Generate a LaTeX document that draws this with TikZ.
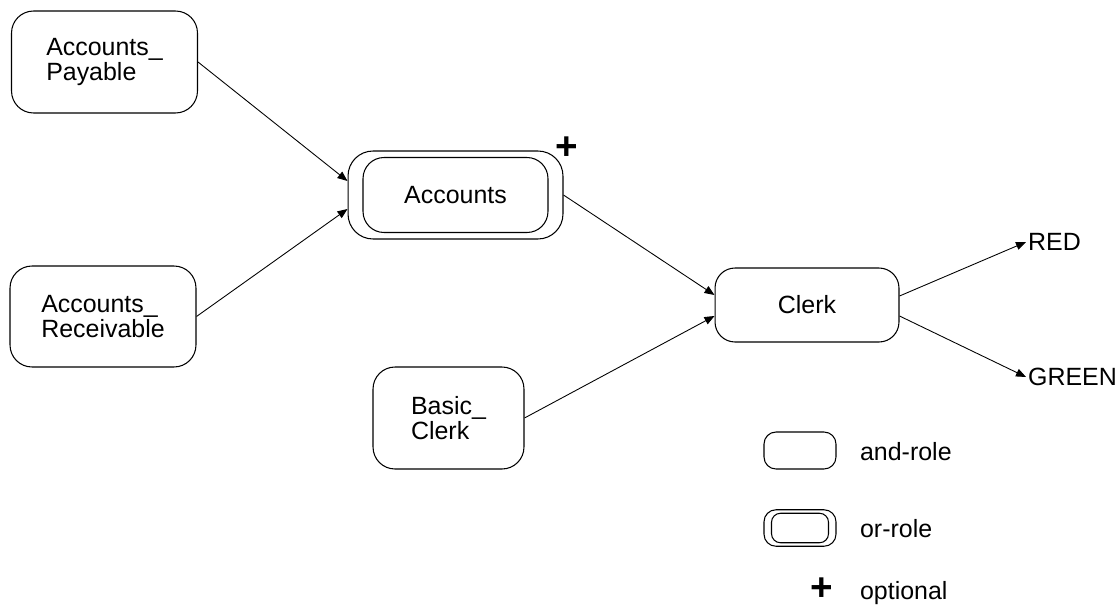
\documentclass[tikz,border=0pt]{standalone}
\usepackage{fontspec}
\setmainfont{Liberation Sans}
\usetikzlibrary{arrows.meta}

\begin{document}
\begin{tikzpicture}[x=0.02cm,y=-0.02cm,
  role/.style={draw,line width=0.6pt,rounded corners=0.44cm,align=left,inner sep=0pt,
    font=\fontsize{14.2}{14.5}\selectfont},
  orouter/.style={draw,line width=0.6pt,rounded corners=0.5cm,inner sep=0pt},
  outtxt/.style={inner sep=1pt,font=\fontsize{14.2}{14.5}\selectfont},
  plusmark/.style={inner sep=0pt,font=\fontsize{22}{22}\selectfont\bfseries},
  link/.style={line width=0.5pt,-{Triangle[length=2mm,width=1.6mm]}}]
\useasboundingbox (0,0) rectangle (1118,605);
\node[role,minimum width=3.72cm,minimum height=2.04cm] (payable) at (104.5,62) {Accounts\_\\Payable};
\node[role,minimum width=3.72cm,minimum height=2.02cm] (receivable) at (103,316.5) {Accounts\_\\Receivable};
\node[orouter,minimum width=4.3cm,minimum height=1.76cm] (accounts) at (455.5,195) {};
\node[role,rounded corners=0.42cm,minimum width=3.7cm,minimum height=1.5cm] (accountsin) at (accounts) {Accounts};
\node[plusmark] (accplus) at (567,148) {+};
\node[role,rounded corners=0.4cm,minimum width=3.68cm,minimum height=1.48cm] (clerk) at (807,305) {Clerk};
\node[role,minimum width=3.02cm,minimum height=2.04cm] (basic) at (448.5,418) {Basic\_\\Clerk};
\node[outtxt,anchor=west] (red) at (1026,242) {RED};
\node[outtxt,anchor=west] (green) at (1026,377) {GREEN};
\draw[link] (payable.east) -- ([yshift=0.28cm]accounts.west);
\draw[link] (receivable.east) -- ([yshift=-0.28cm]accounts.west);
\draw[link] (accounts.east) -- ([yshift=0.2cm]clerk.west);
\draw[link] (basic.east) -- ([yshift=-0.22cm]clerk.west);
\draw[link] ([yshift=0.18cm]clerk.east) -- (red.west);
\draw[link] ([yshift=-0.22cm]clerk.east) -- (green.west);
\node[role,rounded corners=0.24cm,minimum width=1.44cm,minimum height=0.74cm] (andbox) at (800,450.5) {};
\node[outtxt,anchor=base west] (andtxt) at (858,460) {and-role};
\node[orouter,rounded corners=0.24cm,minimum width=1.44cm,minimum height=0.73cm] (orbox) at (800,528) {};
\node[role,rounded corners=0.18cm,minimum width=1.14cm,minimum height=0.59cm] (orboxin) at (orbox) {};
\node[outtxt,anchor=base west] (ortxt) at (858,537) {or-role};
\node[plusmark] (optplus) at (822,589) {+};
\node[outtxt,anchor=base west] (opttxt) at (858,599) {optional};
\end{tikzpicture}
\end{document}
